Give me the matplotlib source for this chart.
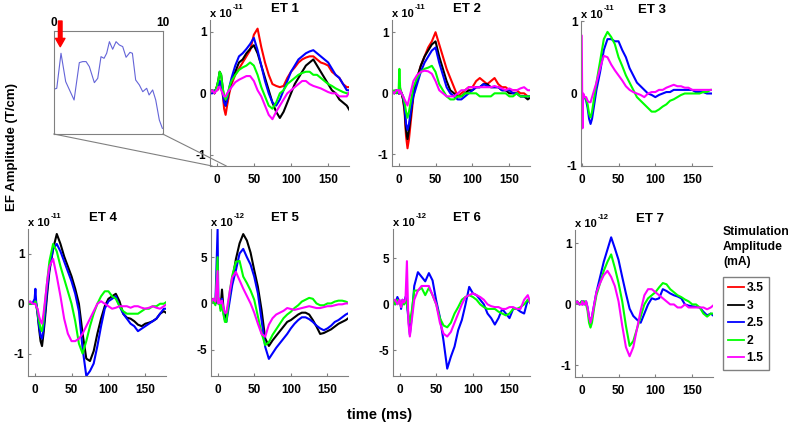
import numpy as np
import matplotlib
matplotlib.use('Agg')
import matplotlib.pyplot as plt
from matplotlib.patches import ConnectionPatch
from matplotlib.lines import Line2D

plt.rcParams['font.family'] = ['Liberation Sans', 'DejaVu Sans']
plt.rcParams['font.weight'] = 'bold'
plt.rcParams['axes.unicode_minus'] = False

# common time grid (ms)
time_ms = [-10, -6, -3, 0, 1, 2, 4, 6, 8, 10, 12, 14, 17, 20,
           25, 30, 35, 40, 45, 50, 55, 60, 65, 70,
           75, 80, 85, 90, 95, 100, 105, 110, 115, 120,
           125, 130, 135, 140, 145, 150, 155, 160, 165, 170, 175, 180]

# ET 1 (x 1e-11)
et1_red = [0.0, 0.05, 0.0, 0.1, 0.05, 0.1, 0.2, 0.15, 0.0, -0.25, -0.35, -0.2, 0.0, 0.15,
           0.3, 0.4, 0.5, 0.6, 0.7, 0.95, 1.05, 0.75, 0.5, 0.3,
           0.15, 0.12, 0.1, 0.12, 0.25, 0.35, 0.42, 0.5, 0.55, 0.58,
           0.6, 0.6, 0.55, 0.5, 0.48, 0.45, 0.35, 0.3, 0.25, 0.15, 0.1, 0.1]
et1_black = [0.0, 0.05, 0.0, 0.1, 0.15, 0.2, 0.35, 0.3, 0.1, -0.1, -0.2, -0.1, 0.05, 0.2,
             0.35, 0.5, 0.55, 0.65, 0.72, 0.78, 0.65, 0.45, 0.25, 0.05,
             -0.15, -0.3, -0.4, -0.3, -0.15, 0.0, 0.15, 0.25, 0.35, 0.45,
             0.5, 0.55, 0.45, 0.35, 0.25, 0.15, 0.05, 0.0, -0.1, -0.15, -0.2, -0.3]
et1_blue = [0.0, 0.0, 0.05, 0.05, 0.1, 0.1, 0.2, 0.15, 0.0, -0.15, -0.2, -0.1, 0.1, 0.25,
            0.45, 0.6, 0.65, 0.72, 0.8, 0.9, 0.7, 0.45, 0.2, 0.0,
            -0.15, -0.2, -0.1, 0.05, 0.2, 0.35, 0.45, 0.55, 0.6, 0.65,
            0.68, 0.7, 0.65, 0.6, 0.55, 0.5, 0.4, 0.3, 0.25, 0.15, 0.05, 0.05]
et1_green = [0.0, 0.05, 0.0, 0.1, 0.15, 0.2, 0.35, 0.3, 0.1, -0.05, -0.1, -0.05, 0.1, 0.2,
             0.3, 0.38, 0.42, 0.45, 0.5, 0.45, 0.3, 0.1, -0.05, -0.2,
             -0.25, -0.15, 0.0, 0.05, 0.15, 0.2, 0.25, 0.3, 0.33, 0.35,
             0.35, 0.3, 0.3, 0.25, 0.2, 0.15, 0.12, 0.08, 0.05, 0.02, 0.0, 0.0]
et1_magenta = [0.0, 0.05, 0.0, 0.05, 0.05, 0.1, 0.1, 0.05, 0.0, -0.05, -0.05, 0.0, 0.05, 0.1,
               0.18, 0.22, 0.25, 0.28, 0.28, 0.2, 0.05, -0.05, -0.2, -0.35,
               -0.42, -0.3, -0.2, -0.1, 0.0, 0.05, 0.1, 0.15, 0.2, 0.2,
               0.15, 0.12, 0.1, 0.08, 0.05, 0.02, 0.0, 0.0, -0.05, -0.05, -0.05, 0.05]

# ET 2 (x 1e-11)
et2_red = [0.05, 0.0, 0.05, 0.0, 0.0, 0.05, 0.0, -0.1, -0.3, -0.7, -0.9, -0.75, -0.4, -0.05,
           0.25, 0.45, 0.6, 0.75, 0.85, 1.0, 0.8, 0.6, 0.4, 0.25,
           0.1, -0.05, 0.0, 0.05, 0.1, 0.1, 0.2, 0.25, 0.2, 0.15,
           0.2, 0.25, 0.15, 0.1, 0.1, 0.05, 0.05, 0.05, 0.0, 0.0, -0.05, -0.05]
et2_black = [0.05, 0.0, 0.05, 0.0, 0.0, 0.05, 0.0, -0.1, -0.25, -0.6, -0.75, -0.6, -0.3, 0.0,
             0.25, 0.45, 0.6, 0.7, 0.8, 0.85, 0.6, 0.4, 0.2, 0.05,
             0.0, -0.05, -0.05, 0.0, 0.05, 0.05, 0.1, 0.1, 0.15, 0.15,
             0.1, 0.1, 0.1, 0.05, 0.05, 0.0, 0.0, 0.0, -0.05, -0.05, -0.1, -0.05]
et2_blue = [0.05, 0.0, 0.05, 0.0, 0.0, 0.05, 0.0, -0.05, -0.2, -0.5, -0.6, -0.5, -0.25, -0.05,
            0.15, 0.35, 0.5, 0.6, 0.7, 0.75, 0.5, 0.3, 0.1, 0.0,
            -0.05, -0.1, -0.1, -0.05, 0.0, 0.05, 0.1, 0.1, 0.15, 0.12,
            0.1, 0.1, 0.1, 0.05, 0.05, 0.05, 0.0, 0.0, -0.05, -0.05, -0.05, -0.05]
et2_green = [0.0, 0.05, 0.0, 0.05, 0.4, 0.1, 0.0, -0.05, -0.15, -0.3, -0.4, -0.3, -0.1, 0.1,
             0.25, 0.35, 0.4, 0.42, 0.45, 0.35, 0.15, 0.05, -0.05, -0.1,
             -0.1, -0.05, -0.05, 0.0, 0.0, 0.0, 0.0, -0.05, -0.05, -0.05,
             -0.05, 0.0, 0.0, 0.0, 0.0, -0.05, -0.05, 0.0, -0.05, -0.05, -0.05, -0.05]
et2_magenta = [0.05, 0.0, 0.05, 0.05, 0.0, 0.05, 0.0, -0.05, -0.1, -0.15, -0.2, -0.1, 0.05, 0.2,
               0.3, 0.35, 0.37, 0.36, 0.32, 0.2, 0.05, 0.0, -0.05, -0.05,
               -0.05, 0.0, 0.05, 0.05, 0.1, 0.1, 0.1, 0.1, 0.1, 0.1,
               0.1, 0.12, 0.1, 0.08, 0.05, 0.08, 0.05, 0.05, 0.08, 0.1, 0.05, 0.05]

# ET 3 (x 1e-11)
et3_blue = [0.0, 0.0, 0.0, 0.0, -0.05, -0.05, -0.05, -0.1, -0.2, -0.35, -0.42, -0.35, -0.15, 0.05,
            0.3, 0.6, 0.75, 0.75, 0.72, 0.72, 0.6, 0.5, 0.35, 0.25,
            0.15, 0.1, 0.05, 0.0, -0.02, -0.05, -0.02, 0.0, 0.02, 0.02,
            0.05, 0.05, 0.05, 0.05, 0.05, 0.05, 0.02, 0.02, 0.02, 0.0, 0.0, 0.0]
et3_green = [0.0, 0.0, 0.0, 0.0, 0.0, -0.02, -0.05, -0.08, -0.15, -0.28, -0.33, -0.25, -0.05, 0.15,
             0.45, 0.75, 0.85, 0.78, 0.68, 0.5, 0.38, 0.25, 0.15, 0.05,
             -0.05, -0.1, -0.15, -0.2, -0.25, -0.25, -0.22, -0.18, -0.15, -0.1,
             -0.08, -0.05, -0.02, 0.0, 0.0, 0.0, 0.0, 0.0, 0.02, 0.02, 0.05, 0.05]
et3_magenta = [0.05, 0.0, 0.05, 0.8, -0.48, 0.0, -0.05, -0.05, -0.1, -0.12, -0.12, -0.05, 0.05, 0.15,
               0.35, 0.52, 0.5, 0.4, 0.32, 0.25, 0.18, 0.1, 0.05, 0.02,
               0.0, -0.02, -0.05, 0.0, 0.02, 0.02, 0.05, 0.05, 0.08, 0.1,
               0.12, 0.1, 0.1, 0.08, 0.08, 0.05, 0.05, 0.05, 0.05, 0.05, 0.05, 0.05]

# ET 4 (x 1e-11)
et4_black = [0.0, 0.0, 0.0, 0.05, 0.1, 0.0, -0.2, -0.5, -0.75, -0.85, -0.6, -0.3, 0.2, 0.65,
             1.1, 1.4, 1.2, 0.95, 0.75, 0.55, 0.3, 0.0, -0.6, -1.1,
             -1.15, -0.95, -0.6, -0.3, -0.05, 0.1, 0.15, 0.2, 0.05, -0.2,
             -0.28, -0.3, -0.35, -0.42, -0.45, -0.4, -0.38, -0.35, -0.3, -0.2, -0.15, -0.2]
et4_blue = [0.0, 0.0, 0.0, 0.1, 0.3, 0.05, -0.2, -0.45, -0.65, -0.7, -0.5, -0.2, 0.3, 0.7,
            1.1, 1.2, 1.05, 0.85, 0.65, 0.45, 0.2, -0.15, -0.9, -1.45,
            -1.35, -1.2, -0.85, -0.45, -0.1, 0.05, 0.1, 0.15, -0.05, -0.2,
            -0.3, -0.4, -0.45, -0.55, -0.5, -0.45, -0.4, -0.35, -0.3, -0.2, -0.1, -0.1]
et4_green = [0.0, 0.0, 0.0, 0.0, 0.05, 0.0, -0.15, -0.35, -0.5, -0.55, -0.35, 0.0, 0.45, 0.85,
             1.2, 1.05, 0.75, 0.5, 0.25, 0.0, -0.35, -0.8, -1.0, -0.75,
             -0.45, -0.2, 0.0, 0.15, 0.25, 0.25, 0.15, 0.1, -0.05, -0.15,
             -0.2, -0.2, -0.2, -0.2, -0.15, -0.1, -0.1, -0.05, -0.05, 0.0, 0.0, 0.05]
et4_magenta = [0.0, 0.05, 0.0, 0.0, 0.0, -0.05, -0.1, -0.25, -0.35, -0.4, -0.2, 0.05, 0.45, 0.75,
               0.9, 0.55, 0.15, -0.3, -0.6, -0.75, -0.75, -0.7, -0.6, -0.45,
               -0.3, -0.15, 0.0, 0.05, 0.0, -0.05, -0.1, -0.08, -0.05, -0.05,
               -0.05, -0.08, -0.05, -0.05, -0.08, -0.1, -0.08, -0.05, -0.08, -0.1, -0.05, 0.0]

# ET 5 (x 1e-12)
et5_black = [0.3, 0.5, 0.0, 0.3, 0.0, 0.5, -0.5, 1.5, -0.5, -1.5, -1.5, -0.5, 1.0, 2.5,
             4.8, 6.5, 7.5, 6.8, 5.5, 3.6, 1.8, -0.7, -3.8, -4.6,
             -4.0, -3.5, -3.0, -2.5, -2.0, -1.8, -1.5, -1.2, -1.0, -1.0,
             -1.2, -1.8, -2.5, -3.3, -3.2, -3.0, -2.8, -2.5, -2.2, -2.0, -1.8, -1.5]
et5_blue = [0.3, 0.2, 0.0, 8.0, 0.0, 0.3, -0.5, 0.5, -1.0, -1.8, -2.0, -1.0, 0.5, 2.0,
            3.6, 5.4, 5.9, 5.0, 4.2, 2.9, 1.1, -1.8, -4.7, -6.0,
            -5.4, -4.8, -4.3, -3.8, -3.3, -2.7, -2.2, -1.8, -1.5, -1.5,
            -1.7, -2.0, -2.4, -2.7, -2.9, -2.7, -2.4, -2.0, -1.8, -1.5, -1.2, -1.0]
et5_green = [0.0, 0.3, -0.2, 5.0, 0.0, 0.5, -0.8, 0.0, -1.2, -2.0, -2.0, -0.5, 1.5, 3.0,
             4.5, 4.6, 2.9, 2.2, 1.4, 0.4, -1.4, -3.2, -4.5, -4.2,
             -3.4, -2.8, -2.2, -1.6, -1.2, -0.9, -0.5, -0.2, 0.2, 0.4,
             0.6, 0.5, 0.0, -0.2, -0.2, 0.0, 0.0, 0.2, 0.3, 0.3, 0.2, 0.0]
et5_magenta = [0.0, 0.5, 0.2, 3.5, 0.0, 0.5, 0.0, 0.3, -0.5, -1.0, -1.0, 0.0, 1.5, 2.8,
               3.4, 2.5, 1.6, 0.8, 0.0, -1.0, -2.2, -3.3, -3.6, -2.3,
               -1.6, -1.2, -1.0, -0.8, -0.5, -0.6, -0.7, -0.6, -0.5, -0.4,
               -0.3, -0.4, -0.5, -0.5, -0.4, -0.3, -0.3, -0.2, -0.1, -0.1, 0.0, 0.0]

# ET 6 (x 1e-12)
et6_blue = [0.5, 0.0, 0.8, 0.2, 0.3, -0.5, 0.5, 0.0, 0.8, 0.0, -1.5, -3.3, -1.0, 2.0,
            3.5, 3.0, 2.5, 3.4, 2.6, 0.4, -1.4, -4.0, -7.0, -5.7,
            -4.6, -2.8, -1.7, 0.0, 1.9, 1.2, 1.0, 0.5, 0.0, -1.0,
            -1.5, -2.2, -1.5, -0.5, -1.0, -1.5, -0.5, -0.5, -0.8, -1.0, 0.5, 0.0]
et6_green = [0.8, 0.0, 0.5, 0.0, 0.3, -0.3, 0.3, 0.0, 0.5, 0.0, -1.0, -2.0, -0.5, 1.5,
             1.5, 1.8, 1.0, 1.8, 1.0, 0.0, -1.5, -2.3, -2.5, -2.0,
             -1.0, -0.3, 0.5, 0.8, 1.0, 0.8, 0.5, 0.0, -0.3, -0.5,
             -0.5, -0.5, -0.8, -1.0, -1.2, -1.0, -0.5, -0.5, -0.3, 0.0, 0.5, 0.0]
et6_magenta = [0.3, 0.5, 0.0, 0.5, 0.0, -0.3, 0.5, 0.2, 0.5, 4.7, -2.0, -3.5, -1.5, 0.5,
               1.5, 2.0, 2.0, 2.0, 1.0, 0.0, -2.0, -3.2, -3.5, -3.0,
               -2.0, -1.0, 0.0, 0.8, 1.0, 1.2, 1.0, 0.8, 0.5, 0.0,
               -0.2, -0.3, -0.3, -0.5, -0.5, -0.3, -0.3, -0.5, -0.5, 0.5, 1.0, -0.2]

# ET 7 (x 1e-12)
et7_blue = [0.0, 0.05, 0.0, 0.05, 0.0, 0.05, 0.0, 0.05, -0.05, -0.2, -0.3, -0.2, 0.0, 0.2,
            0.45, 0.7, 0.9, 1.1, 0.92, 0.73, 0.45, 0.18, -0.07, -0.19,
            -0.25, -0.3, -0.15, 0.0, 0.1, 0.08, 0.1, 0.25, 0.22, 0.18,
            0.15, 0.13, 0.1, 0.0, -0.02, -0.03, -0.04, -0.05, -0.12, -0.18, -0.15, -0.2]
et7_green = [0.0, 0.05, 0.0, 0.05, 0.0, 0.05, 0.05, 0.0, -0.1, -0.3, -0.38, -0.3, -0.05, 0.15,
             0.35, 0.55, 0.7, 0.82, 0.6, 0.35, 0.05, -0.35, -0.68, -0.6,
             -0.4, -0.2, 0.0, 0.1, 0.15, 0.2, 0.28, 0.35, 0.33, 0.25,
             0.2, 0.15, 0.12, 0.08, 0.05, 0.0, 0.0, -0.05, -0.15, -0.2, -0.15, -0.15]
et7_magenta = [0.0, 0.05, 0.0, 0.0, 0.05, 0.0, 0.0, 0.05, -0.05, -0.2, -0.3, -0.2, 0.0, 0.2,
               0.35, 0.48, 0.55, 0.45, 0.3, 0.05, -0.35, -0.7, -0.85, -0.7,
               -0.4, -0.1, 0.15, 0.25, 0.25, 0.2, 0.15, 0.1, 0.05, 0.0,
               0.0, -0.05, -0.05, 0.0, -0.05, -0.05, -0.05, -0.05, -0.05, -0.08, -0.05, 0.0]

# zoomed inset (first 10 ms, arbitrary units)
inset_t = [0, 0.28, 0.67, 1.10, 1.87, 2.35, 2.66, 2.97, 3.27, 3.73, 4.04, 4.34, 4.62, 4.86,
           5.11, 5.41, 5.72, 6.02, 6.33, 6.64, 7.00, 7.22, 7.52, 7.86, 8.17, 8.53, 8.75,
           9.08, 9.36, 9.69, 9.97]
inset_v = [0.435, 0.445, 0.786, 0.51, 0.331, 0.695, 0.705, 0.705, 0.656, 0.50, 0.542, 0.753,
           0.737, 0.786, 0.899, 0.825, 0.899, 0.867, 0.851, 0.747, 0.795, 0.786, 0.526, 0.477,
           0.412, 0.445, 0.38, 0.429, 0.331, 0.136, 0.055]

amp_labels = ['3.5', '3', '2.5', '2', '1.5']
RED, BLACK, BLUE, GREEN, MAG = '#ff0000', '#000000', '#0000ff', '#00ff00', '#ff00ff'
amp_colors = [RED, BLACK, BLUE, GREEN, MAG]
GRAY = '#808080'

W, H = 790, 425
fig = plt.figure(figsize=(W / 100, H / 100), dpi=100)


def px_axes(l, t, r, b):
    return fig.add_axes([l / W, 1 - b / H, (r - l) / W, (b - t) / H])


panels = [
    ('ET 1', (210, 20, 349, 166), (-9, 178), (-1.18, 1.19), [-1, 0, 1], '-11',
     [(RED, et1_red), (BLACK, et1_black), (BLUE, et1_blue), (GREEN, et1_green), (MAG, et1_magenta)]),
    ('ET 2', (392, 20, 530, 166), (-9, 178), (-1.19, 1.2), [-1, 0, 1], '-11',
     [(RED, et2_red), (BLACK, et2_black), (BLUE, et2_blue), (GREEN, et2_green), (MAG, et2_magenta)]),
    ('ET 3', (581, 21, 712, 166), (-1, 177), (-1, 1), [-1, 0, 1], '-11',
     [(BLUE, et3_blue), (GREEN, et3_green), (MAG, et3_magenta)]),
    ('ET 4', (28, 229, 166, 376), (-9, 178), (-1.45, 1.5), [-1, 0, 1], '-11',
     [(BLACK, et4_black), (BLUE, et4_blue), (GREEN, et4_green), (MAG, et4_magenta)]),
    ('ET 5', (211, 229, 348, 376), (-9, 178), (-7.85, 8.05), [-5, 0, 5], '-12',
     [(BLACK, et5_black), (BLUE, et5_blue), (GREEN, et5_green), (MAG, et5_magenta)]),
    ('ET 6', (393, 229, 530, 376), (-9, 178), (-7.8, 8.2), [-5, 0, 5], '-12',
     [(BLUE, et6_blue), (GREEN, et6_green), (MAG, et6_magenta)]),
    ('ET 7', (575, 230, 713, 377), (-9, 178), (-1.19, 1.22), [-1, 0, 1], '-12',
     [(BLUE, et7_blue), (GREEN, et7_green), (MAG, et7_magenta)]),
]

axes = []
for title, rect, xl, yl, yt, expo, traces in panels:
    ax = px_axes(*rect)
    for c, v in traces:
        ax.plot(time_ms, v, color=c, lw=1.5)
    ax.set_xlim(xl)
    ax.set_ylim(yl)
    ax.set_xticks([0, 50, 100, 150])
    ax.set_yticks(yt)
    ax.spines['top'].set_visible(False)
    ax.spines['right'].set_visible(False)
    for s in ('left', 'bottom'):
        ax.spines[s].set_color(GRAY)
        ax.spines[s].set_linewidth(0.8)
    ax.tick_params(direction='in', length=2, color=GRAY, labelsize=8.5)
    ax.tick_params(axis='x', pad=6)
    ax.tick_params(axis='y', pad=2.5)
    ax.set_title(title, fontsize=9.5, fontweight='bold', x=0.54, pad=5.8)
    t1 = ax.annotate('x 10', xy=(0, 1), xycoords='axes fraction', xytext=(0, 2.5),
                     textcoords='offset points', ha='left', va='baseline', fontsize=8)
    ax.annotate(expo, xy=(1, 1), xycoords=t1, xytext=(1, -1.5),
                textcoords='offset points', ha='left', va='bottom', fontsize=5.5)
    axes.append(ax)

# inset with the first 10 ms
ins = px_axes(53.7, 31.3, 162.7, 134)
ins.plot(inset_t, inset_v, color='#6464d8', lw=0.8)
ins.set_xlim(0, 10)
ins.set_ylim(0, 1)
ins.xaxis.tick_top()
ins.set_xticks([0, 10])
ins.set_yticks([])
ins.tick_params(length=0, labelsize=8.5, pad=1.5)
for s in ins.spines.values():
    s.set_color(GRAY)
    s.set_linewidth(0.8)
ins.annotate('', xy=(0.6, 0.85), xytext=(0.6, 1.1), annotation_clip=False,
             arrowprops=dict(facecolor=RED, edgecolor=RED, width=2.6, headwidth=6.8, headlength=6))

ax1 = axes[0]
for xa, xb in ((0, -6), (1, 13)):
    con = ConnectionPatch(xyA=(xa, 0), coordsA=ins.transAxes,
                          xyB=(xb, ax1.get_ylim()[0]), coordsB=ax1.transData,
                          color=GRAY, lw=0.8)
    fig.add_artist(con)

fig.text(12 / W, 1 - 147 / H, 'EF Amplitude (T/cm)', rotation=90, ha='center', va='center',
         fontsize=9.5, fontweight='bold')
fig.text(380 / W, 1 - 415.5 / H, 'time (ms)', ha='center', va='center',
         fontsize=10.5, fontweight='bold')

# legend
handles = [Line2D([], [], color=c, lw=1.3) for c in amp_colors]
fig.text(723 / W, 1 - 226 / H, 'Stimulation\nAmplitude\n(mA)', ha='left', va='top',
         fontsize=8.7, fontweight='bold', linespacing=1.35)
fig.legend(handles, amp_labels, loc='upper left', bbox_to_anchor=(723 / W, 1 - 277 / H),
           borderaxespad=0, frameon=True, fancybox=False, edgecolor=GRAY, framealpha=1,
           handlelength=1.25, handletextpad=0.25, labelspacing=0.45, borderpad=0.45,
           prop={'size': 8.7, 'weight': 'bold'})

fig.savefig('out.png', dpi=100)
